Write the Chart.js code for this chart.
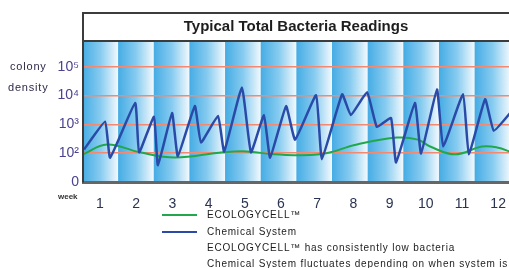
<!DOCTYPE html>
<html>
<head>
<meta charset="utf-8">
<script src="https://cdn.jsdelivr.net/npm/chart.js@4"></script>
<style>
  html, body { margin: 0; padding: 0; background: #fff; overflow: hidden; }
  #wrap { position: relative; width: 509px; height: 268px; }
  #chart { position: absolute; left: 0; top: 0; }
  .lbl { position: absolute; font-family: "Liberation Sans", Arial, sans-serif; color: #2e2a48; white-space: nowrap; }
  .side { font-size: 11px; letter-spacing: 0.8px; }
  .week { font-size: 8px; font-weight: bold; left: 58px; top: 192px; color: #333; }
  .leg { font-size: 10px; letter-spacing: 0.8px; color: #1c1c1c; left: 207px; line-height: 16px; }
  .swatch { position: absolute; left: 162px; width: 35px; height: 2px; }
</style>
</head>
<body>
<div id="wrap">
  <canvas id="chart" width="509" height="268"></canvas>
  <div class="lbl side" style="left:10px; top:60px;">colony</div>
  <div class="lbl side" style="left:8px; top:81px;">density</div>
  <div class="lbl week">week</div>
  <div class="swatch" style="top:214px; background:#22a84c;"></div>
  <div class="swatch" style="top:231px; background:#2a4aa8;"></div>
  <div class="lbl leg" style="top:207px;">ECOLOGYCELL™</div>
  <div class="lbl leg" style="top:224px;">Chemical System</div>
  <div class="lbl leg" style="top:240px;">ECOLOGYCELL™ has consistently low bacteria</div>
  <div class="lbl leg" style="top:256px;">Chemical System fluctuates depending on when system is treated</div>
</div>
<script>
// semaines (axe x) et lectures (colonies)
const weeks = [1, 2, 3, 4, 5, 6, 7, 8, 9, 10, 11, 12];

const chemWeeks = [0.56, 1.14, 1.28, 1.97, 2.08, 2.49, 2.60, 2.99, 3.15, 3.62, 3.79, 4.26,
                   4.43, 4.92, 5.17, 5.53, 5.70, 6.14, 6.39, 6.97, 7.13, 7.69, 7.93, 8.38,
                   8.65, 9.04, 9.18, 9.70, 9.87, 10.31, 10.48, 11.03, 11.19, 11.64, 11.88, 12.38];
const chemValues = [135, 1230, 70, 5500, 107, 1820, 38, 2450, 78, 4270, 235, 1950,
                    115, 19000, 107, 2090, 70, 4270, 295, 10200, 62, 11000, 2090, 12900,
                    810, 1660, 48, 5500, 98, 16200, 170, 11000, 91, 7400, 600, 2900];

const ecoWeeks = [0.53, 1.19, 2.10, 3.07, 4.40, 5.06, 5.83, 7.08, 8.10, 9.20, 9.78, 10.12,
                  10.81, 11.55, 11.97, 12.38];
const ecoValues = [91, 200, 107, 71, 107, 115, 91, 91, 200, 347, 295, 170,
                   91, 170, 158, 107];

const yTickValues = [10, 100, 1000, 10000, 100000];
const yTickLabels = ['0', '10²', '10³', '10⁴', '10⁵'];

// bandes de fond
const bandStart = 0.515;
const bandWidth = 0.985;

const bandsPlugin = {
    id: 'bands',
    beforeDraw(chart) {
        const { ctx, chartArea: a, scales: { x } } = chart;
        ctx.save();
        ctx.beginPath();
        ctx.rect(a.left, a.top, a.right - a.left, a.bottom - a.top);
        ctx.clip();
        for (let k = 0; k < 14; k++) {
            const x0 = x.getPixelForValue(bandStart + k * bandWidth);
            const x1 = x.getPixelForValue(bandStart + (k + 1) * bandWidth);
            const g = ctx.createLinearGradient(x0, 0, x1, 0);
            g.addColorStop(0, '#45ace4');
            g.addColorStop(0.5, '#86cbf0');
            g.addColorStop(1, '#f2f9fd');
            ctx.fillStyle = g;
            ctx.fillRect(x0, a.top, x1 - x0 + 0.5, a.bottom - a.top);
        }
        ctx.restore();
    }
};

const framePlugin = {
    id: 'frame',
    afterDraw(chart) {
        const { ctx, chartArea: a } = chart;
        ctx.save();
        ctx.strokeStyle = '#3c3c3c';
        ctx.lineWidth = 2;
        ctx.strokeRect(a.left, 13, a.right - a.left + 10, a.top - 13);
        ctx.beginPath();
        ctx.moveTo(a.left, a.top);
        ctx.lineTo(a.left, a.bottom);
        ctx.stroke();
        ctx.restore();
    }
};

new Chart(document.getElementById('chart').getContext('2d'), {
    type: 'line',
    data: {
        datasets: [
            {
                label: 'Chemical System',
                data: chemWeeks.map((w, i) => ({ x: w, y: chemValues[i] })),
                borderColor: '#2a4aa8',
                borderWidth: 2.5,
                pointRadius: 0,
                tension: 0.12,
                fill: false
            },
            {
                label: 'ECOLOGYCELL™',
                data: ecoWeeks.map((w, i) => ({ x: w, y: ecoValues[i] })),
                borderColor: '#22a84c',
                borderWidth: 2,
                pointRadius: 0,
                tension: 0.4,
                fill: false
            }
        ]
    },
    options: {
        responsive: false,
        animation: false,
        layout: { padding: 0 },
        plugins: {
            legend: { display: false },
            tooltip: { enabled: false },
            title: {
                display: true,
                fullSize: false,
                text: 'Typical Total Bacteria Readings',
                color: '#1e1e1e',
                font: { family: '"Liberation Sans", Arial, sans-serif', size: 15, weight: 'bold' },
                padding: { top: 18, bottom: 5 }
            }
        },
        scales: {
            x: {
                type: 'linear',
                min: 0.53,
                max: 12.3,
                grid: { display: false },
                border: { display: true, color: '#666', width: 3 },
                afterBuildTicks: s => { s.ticks = weeks.map(w => ({ value: w })); },
                afterFit: s => { s.height = 86; s.paddingLeft = 0; s.paddingRight = 0; },
                ticks: {
                    autoSkip: false,
                    maxRotation: 0,
                    padding: 6,
                    color: '#2a3352',
                    font: { family: '"Liberation Sans", Arial, sans-serif', size: 14 },
                    callback: v => String(v)
                }
            },
            y: {
                type: 'logarithmic',
                min: 10,
                max: 776000,
                grid: {
                    drawTicks: false,
                    color: c => c.tick && c.tick.value === 10 ? 'rgba(0,0,0,0)' : '#f5896f',
                    lineWidth: 1.5
                },
                border: { display: true, color: '#3c3c3c', width: 2 },
                afterBuildTicks: s => { s.ticks = yTickValues.map(v => ({ value: v })); },
                afterFit: s => { s.width = 83; },
                ticks: {
                    padding: 4,
                    color: '#4a4290',
                    font: { family: '"Liberation Sans", Arial, sans-serif', size: 14 },
                    callback: (v, i) => yTickLabels[i]
                }
            }
        }
    },
    plugins: [bandsPlugin, framePlugin]
});
</script>
</body>
</html>
